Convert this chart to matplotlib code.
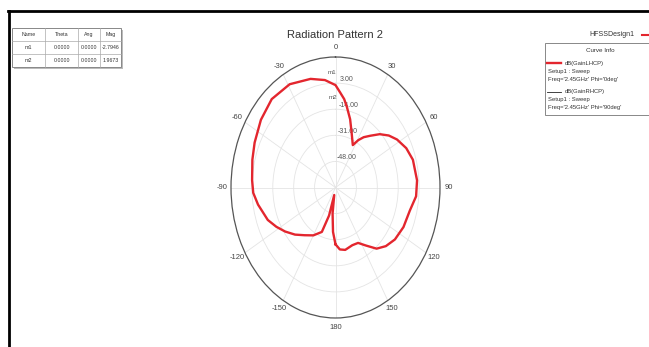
import numpy as np
import matplotlib
matplotlib.use("Agg")
import matplotlib.pyplot as plt
from matplotlib.patches import Rectangle
from matplotlib.lines import Line2D

plt.rcParams['font.family'] = ['Liberation Sans', 'DejaVu Sans']

W, H = 649, 347

# gain pattern (theta in deg, gain in dB)
theta_deg = [-180, -176, -172, -168, -164, -159, -150, -141, -133, -125, -118, -111,
             -100, -93, -86, -75, -66, -54, -42, -29, -16, -7, 0, 3.5, 7, 10, 15, 21,
             27, 31, 35, 40, 46, 52, 58, 66, 74, 86, 95, 104, 115, 125, 133, 140, 147,
             153, 160, 169, 175, 180]
gain_db = [-28, -36, -48, -60, -46, -34, -29, -25, -20, -15, -10.5, -6,
           -1, 2, 3, 5, 7, 10, 12.5, 11.9, 8.6, 5.5, 1.7, -3, -7, -11.7, -19, -28,
           -34, -29, -25, -21, -15, -10, -6, -2, 0.5, 1.5, 0.8, -2.7, -4, -6, -9, -13, -20,
           -24.5, -25, -23.6, -24.5, -28]

ring_values = [-48, -31, -14, 3]
r_min, r_max = -65, 20
angle_ticks = [0, 30, 60, 90, 120, 150, 180, -150, -120, -90, -60, -30]

table_header = ["Name", "Theta", "Ang", "Mag"]
table_rows = [["m1", "0.0000", "0.0000", "-2.7946"],
              ["m2", "0.0000", "0.0000", "1.9673"]]

legend_title = "Curve Info"
legend_entries = [("dB(GainLHCP)", "Setup1 : Sweep", "Freq='2.45GHz' Phi='0deg'", "#e3262e", 1.7),
                  ("dB(GainRHCP)", "Setup1 : Sweep", "Freq='2.45GHz' Phi='90deg'", "#222222", 0.6)]


def fx(x):
    return x / W


def fy(y):
    return 1 - y / H


fig = plt.figure(figsize=(W / 100, H / 100), dpi=100)

ax = fig.add_axes([fx(231), 29 / H, 209 / W, 261 / H], projection='polar')
ax.set_aspect('auto')
ax.set_theta_zero_location('N')
ax.set_theta_direction(-1)

ax.plot(np.deg2rad(np.mod(theta_deg, 360)), gain_db, color='#e3262e', lw=1.7)

ax.set_xticks(np.deg2rad(np.mod(angle_ticks, 360)))
ax.set_xticklabels([str(a) for a in angle_ticks])
ax.set_xticks(np.deg2rad(np.arange(0, 360, 5)), minor=True)
ax.set_thetalim(0, 2 * np.pi)
ax.set_rlim(r_min, r_max)
ax.tick_params(axis='x', which='major', labelsize=5.5, labelcolor='#444444',
               color='#555555', length=4, direction='inout', pad=-2.5)
ax.tick_params(axis='x', which='minor', color='#666666', length=2.5, width=0.6,
               direction='inout')

ax.set_yticks(ring_values)
ax.set_yticklabels([f"{v:.2f}" for v in ring_values])
ax.set_rlabel_position(3)
ax.tick_params(axis='y', labelsize=5, labelcolor='#555555')
ax.grid(True, color='#e4e4e4', lw=0.6)
ax.spines['polar'].set_color('#555555')
ax.spines['polar'].set_linewidth(0.9)

# marker labels
ax.text(np.deg2rad(358), 9, "m1", fontsize=4.5, color='#555555', ha='center')
ax.text(np.deg2rad(358), -7, "m2", fontsize=4.5, color='#555555', ha='center')

fig.text(fx(335), fy(35), "Radiation Pattern 2", fontsize=8, color='#333333',
         ha='center', va='center')

# marker table
tx0, tx1, ty0, ty1 = 12, 121, 28, 67
col_x = [12, 45, 78, 100, 121]
row_y = [28, 41, 54, 67]
fig.add_artist(Rectangle((fx(tx0 + 2), fy(ty1 + 2)), (tx1 - tx0) / W, (ty1 - ty0) / H,
                         facecolor='#bbbbbb', edgecolor='none'))
fig.add_artist(Rectangle((fx(tx0), fy(ty1)), (tx1 - tx0) / W, (ty1 - ty0) / H,
                         facecolor='white', edgecolor='#888888', lw=0.7))
for cx in col_x[1:-1]:
    fig.add_artist(Line2D([fx(cx), fx(cx)], [fy(ty0), fy(ty1)], color='#aaaaaa', lw=0.5))
for ry in row_y[1:-1]:
    fig.add_artist(Line2D([fx(tx0), fx(tx1)], [fy(ry), fy(ry)], color='#aaaaaa', lw=0.5))
for r, row in enumerate([table_header] + table_rows):
    for c, val in enumerate(row):
        fig.text(fx((col_x[c] + col_x[c + 1]) / 2), fy((row_y[r] + row_y[r + 1]) / 2), val,
                 fontsize=3.8, color='#333333', ha='center', va='center')

# legend
fig.text(fx(612), fy(35), "HFSSDesign1", fontsize=5, color='#333333', ha='center', va='center')
fig.add_artist(Line2D([fx(642), fx(649)], [fy(35), fy(35)], color='#e3262e', lw=1.5))
fig.add_artist(Rectangle((fx(545), fy(115)), 120 / W, 72 / H,
                         facecolor='white', edgecolor='#888888', lw=0.7))
fig.text(fx(600), fy(51), legend_title, fontsize=4.5, color='#333333', ha='center', va='center')
for i, (name, setup, freq, col, lw) in enumerate(legend_entries):
    y0 = 63 + i * 29
    fig.add_artist(Line2D([fx(547), fx(561)], [fy(y0), fy(y0)], color=col, lw=lw))
    fig.text(fx(565), fy(y0), name, fontsize=4.2, color='#333333', va='center')
    fig.text(fx(548), fy(y0 + 8), setup, fontsize=4.2, color='#333333', va='center')
    fig.text(fx(548), fy(y0 + 16), freq, fontsize=4.2, color='#333333', va='center')

# page frame
fig.add_artist(Line2D([fx(9), fx(9)], [0, fy(10.5)], color='black', lw=2))
fig.add_artist(Line2D([fx(8), 1], [fy(10.5), fy(10.5)], color='black', lw=2))

fig.savefig("out.png", dpi=100)
